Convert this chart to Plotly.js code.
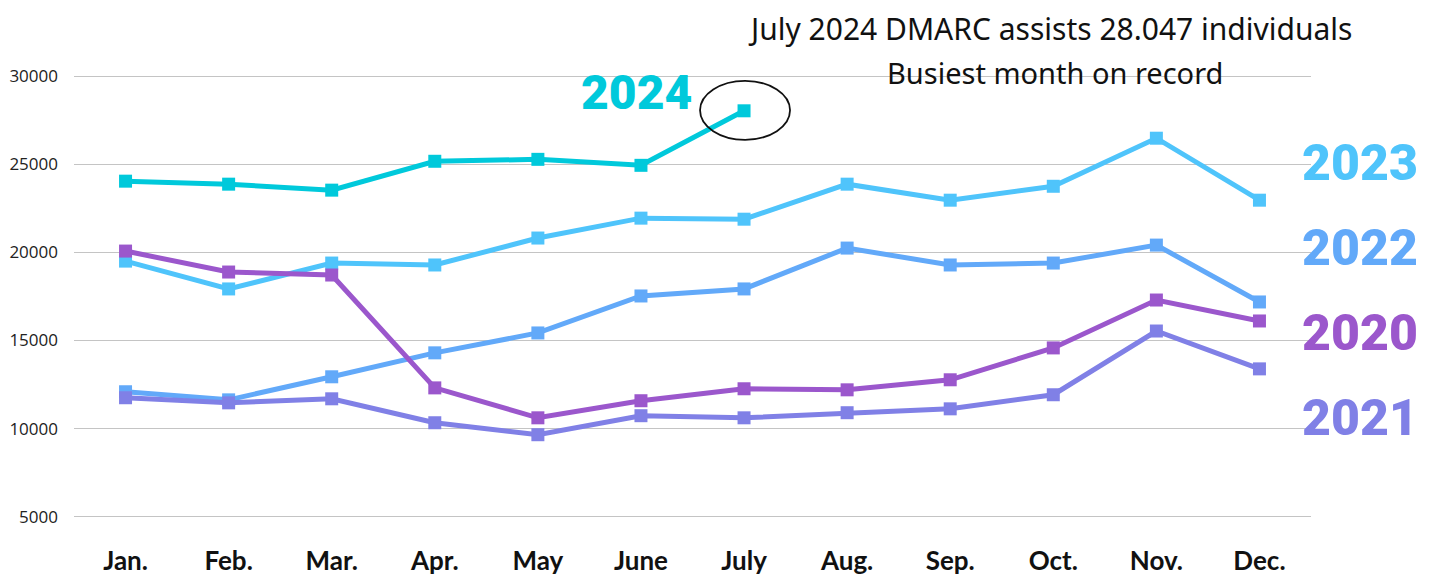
<!DOCTYPE html>
<html>
<head>
<meta charset="utf-8">
<script src="https://cdn.plot.ly/plotly-3.0.1.min.js"></script>
<style>
  html, body { margin: 0; padding: 0; background: #fff; }
  #chart { width: 1434px; height: 578px; }
</style>
</head>
<body>
<div id="chart"></div>
<script>
// months on the x axis
const months = ['Jan.', 'Feb.', 'Mar.', 'Apr.', 'May', 'June', 'July', 'Aug.', 'Sep.', 'Oct.', 'Nov.', 'Dec.'];

// individuals assisted per month
const y2020 = [20080, 18890, 18720, 12310, 10610, 11580, 12260, 12200, 12770, 14580, 17300, 16110];
const y2021 = [11750, 11460, 11690, 10330, 9650, 10730, 10610, 10900, 11120, 11920, 15540, 13390];
const y2022 = [12090, 11630, 12940, 14300, 15430, 17530, 17930, 20250, 19290, 19400, 20420, 17190];
const y2023 = [19510, 17930, 19400, 19290, 20820, 21950, 21890, 23880, 22970, 23760, 26490, 22970];
const y2024 = [24050, 23880, 23540, 25180, 25290, 24950, 28047];

const yearLabels = ['2023', '2022', '2020', '2021'];
const yTicks = [5000, 10000, 15000, 20000, 25000, 30000];

const colors = {
    2020: '#9b57cc',
    2021: '#8080e6',
    2022: '#62a9f9',
    2023: '#4fc4fb',
    2024: '#00c9db',
};

function series(name, values) {
    return {
        x: months.slice(0, values.length),
        y: values,
        name: name,
        type: 'scatter',
        mode: 'lines+markers',
        line: {color: colors[name], width: 5},
        marker: {symbol: 'square', size: 13, color: colors[name]},
        cliponaxis: false,
    };
}

const data = [
    series('2024', y2024),
    series('2023', y2023),
    series('2022', y2022),
    series('2020', y2020),
    series('2021', y2021),
];

// big coloured year labels at the right edge
const labelY = {2023: 0.770, 2022: 0.598, 2020: 0.426, 2021: 0.254};
const annotations = yearLabels.map(yr => ({
    text: yr,
    xref: 'paper', yref: 'paper',
    x: 1.04, y: labelY[yr],
    xanchor: 'center', yanchor: 'middle',
    showarrow: false,
    font: {family: 'Roboto', size: 50, weight: 900, color: colors[yr]},
}));

annotations.push({
    text: '2024',
    xref: 'paper', yref: 'paper',
    x: 0.455, y: 0.914,
    xanchor: 'center', yanchor: 'middle',
    showarrow: false,
    font: {family: 'Roboto', size: 48, weight: 900, color: colors[2024]},
});

annotations.push({
    text: 'July 2024 DMARC assists 28.047 individuals',
    xref: 'paper', yref: 'paper',
    x: 0.789, y: 1.0435,
    xanchor: 'center', yanchor: 'middle',
    showarrow: false,
    font: {family: 'Noto Sans', size: 30, color: '#111'},
});
annotations.push({
    text: 'Busiest month on record',
    xref: 'paper', yref: 'paper',
    x: 0.793, y: 0.954,
    xanchor: 'center', yanchor: 'middle',
    showarrow: false,
    font: {family: 'Noto Sans', size: 29, color: '#111'},
});

const layout = {
    width: 1434,
    height: 578,
    margin: {l: 74, r: 123, t: 49.5, b: 34.5},
    paper_bgcolor: '#fff',
    plot_bgcolor: '#fff',
    showlegend: false,
    xaxis: {
        type: 'category',
        categoryarray: months,
        range: [-0.5, 11.5],
        showgrid: false,
        zeroline: false,
        showline: false,
        ticks: '',
        automargin: false,
        tickfont: {family: 'Lato', size: 26, weight: 700, color: '#111'},
    },
    yaxis: {
        range: [3500, 31500],
        tickvals: yTicks,
        ticktext: yTicks.map(String),
        showgrid: true,
        gridcolor: '#c4c4c4',
        gridwidth: 1.5,
        zeroline: false,
        showline: false,
        ticks: '',
        ticklabelstandoff: 15,
        automargin: false,
        tickfont: {family: 'Open Sans', size: 17, color: '#222'},
    },
    annotations: annotations,
    // hand-drawn ring around the July 2024 record
    shapes: [{
        type: 'circle',
        xref: 'x', yref: 'y',
        xsizemode: 'pixel', ysizemode: 'pixel',
        xanchor: months[y2024.length - 1],
        yanchor: y2024[y2024.length - 1],
        x0: -44, x1: 46, y0: -29, y1: 30,
        line: {color: '#111', width: 1.8},
    }],
};

Plotly.newPlot('chart', data, layout, {displayModeBar: false, staticPlot: true});
</script>
</body>
</html>
